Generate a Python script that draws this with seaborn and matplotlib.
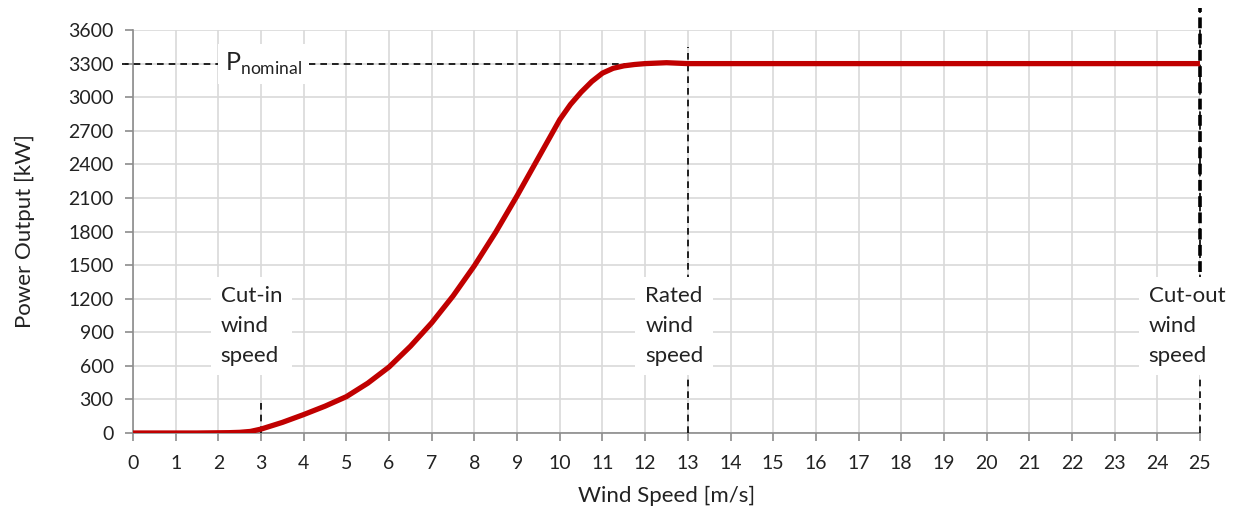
import matplotlib
matplotlib.use("Agg")
import matplotlib.pyplot as plt
import seaborn as sns
import pandas as pd

# power curve
wind_speed = [0, 0.5, 1, 1.5, 2, 2.25, 2.5, 2.75, 3, 3.25, 3.5, 4, 4.5, 5, 5.5, 6, 6.5,
              7, 7.5, 8, 8.5, 9, 9.5, 10, 10.25, 10.5, 10.75, 11, 11.25, 11.5, 11.75,
              12, 12.5, 13, 14, 16, 18, 20, 22, 24, 25]
power_kw = [0, 0, 0, 0, 2, 3, 6, 14, 35, 65, 95, 165, 240, 325, 445, 590, 775,
            985, 1225, 1495, 1795, 2120, 2460, 2800, 2935, 3045, 3140, 3215, 3258,
            3280, 3292, 3300, 3308, 3300, 3300, 3300, 3300, 3300, 3300, 3300, 3300]

p_nominal = 3300
cut_in = 3
rated = 13
cut_out = 25

x_ticks = list(range(0, 26))
y_ticks = list(range(0, 3601, 300))

df = pd.DataFrame({"wind": wind_speed, "power": power_kw})

sns.set_theme(style="white")
plt.rcParams["font.family"] = ["Lato", "DejaVu Sans"]

fig = plt.figure(figsize=(12.48, 5.15), dpi=100)
ax = fig.add_axes([0.1066, 0.1592, 0.8549, 0.7825])

ax.set_xlim(0, 25)
ax.set_ylim(0, 3600)
ax.set_xticks(x_ticks)
ax.set_yticks(y_ticks)
ax.grid(True, color="#d9d9d9", lw=1.2, zorder=0)
ax.set_axisbelow(True)

sns.lineplot(data=df, x="wind", y="power", ax=ax, color="#c00000", lw=3.8, zorder=4,
             solid_joinstyle="round", solid_capstyle="butt")

dash = dict(color="black", lw=1.2, ls=(0, (4, 3)), zorder=3, clip_on=False)
ax.plot([-0.26, 14.1], [p_nominal, p_nominal], **dash)
ax.plot([cut_in, cut_in], [0, 300], **dash)
ax.plot([rated, rated], [0, 3450], **dash)
ax.plot([cut_out, cut_out], [0, 3800], **dash)
ax.plot([cut_out, cut_out], [1440, 3800], color="black", lw=2.6,
        ls=(0, (3, 1.5)), zorder=3, clip_on=False)

box = dict(facecolor="white", edgecolor="none", pad=7)
lbl = dict(fontsize=16, color="#222222", va="top", ha="left", linespacing=1.6,
           zorder=6, bbox=box)
ax.text(2.05, 1310, "Cut-in\nwind\nspeed", **lbl)
ax.text(12.0, 1310, "Rated\nwind\nspeed", **lbl)
ax.text(23.8, 1310, "Cut-out\nwind\nspeed", **lbl)
ax.text(2.15, p_nominal, r"P$_{\mathregular{nominal}}$", fontsize=18, color="#222222",
        va="center", ha="left", zorder=6,
        bbox=dict(facecolor="white", edgecolor="none", pad=5))

for s in ["top", "right"]:
    ax.spines[s].set_visible(False)
for s in ["left", "bottom"]:
    ax.spines[s].set_color("#8c8c8c")
    ax.spines[s].set_linewidth(1.2)
ax.tick_params(axis="both", direction="out", length=6, width=1.2, color="#8c8c8c",
               labelsize=14, labelcolor="#222222", left=True, bottom=True)
ax.tick_params(axis="x", pad=10)
ax.tick_params(axis="y", pad=8)

ax.set_xlabel("Wind Speed [m/s]", fontsize=16, color="#222222", labelpad=10)
ax.set_ylabel("Power Output [kW]", fontsize=16, color="#222222", labelpad=24)

fig.savefig("out.png", dpi=100)
